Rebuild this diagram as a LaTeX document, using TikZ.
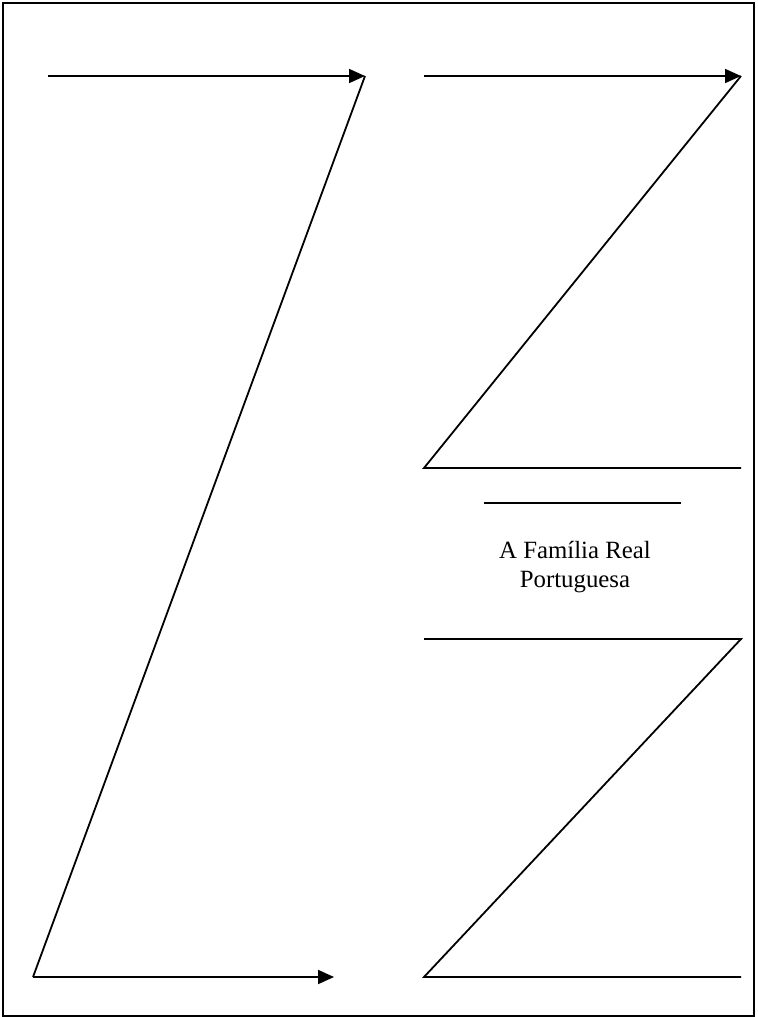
\documentclass[tikz,border=0pt]{standalone}
\usepackage{fontspec}
\setmainfont{Liberation Serif}
\usepackage{tikz}
\usetikzlibrary{positioning, arrows.meta}

\tikzset{
  zline/.style={line width=0.9pt},
  zarrow/.style={zline, -{Triangle[length=8pt, width=7pt]}},
}

\begin{document}
\begin{tikzpicture}[x=0.5pt, y=-0.5pt]
    \useasboundingbox (0,0) rectangle (757,1017);
    \draw[line width=1pt] (3,2.5) rectangle (754,1015.5);

    % left Z
    \coordinate (lstart) at (48,76);
    \coordinate (ltop)   at (365,76);
    \coordinate (lbot)   at (33,977);
    \coordinate (lend)   at (334,977);
    \draw[zarrow] (lstart) -- (ltop);
    \draw[zline]  (ltop) -- (lbot);
    \draw[zarrow] (lbot) -- (lend);

    % upper right Z
    \coordinate (ustart) at (424,76);
    \coordinate (utop)   at (741,76);
    \coordinate (ubot)   at (424,468);
    \coordinate (uend)   at (741,468);
    \draw[zarrow] (ustart) -- (utop);
    \draw[zline]  (utop) -- (ubot) -- (uend);

    % title
    \coordinate (sepl) at (484,503);
    \coordinate (sepr) at (681,503);
    \draw[zline] (sepl) -- (sepr);
    \node[align=center, font=\fontsize{12.4}{14.6}\selectfont] (title) at (575,567)
      {A Família Real\\Portuguesa};

    % lower right Z
    \coordinate (dstart) at (424,639);
    \coordinate (dtop)   at (741,639);
    \coordinate (dbot)   at (424,977);
    \coordinate (dend)   at (741,977);
    \draw[zline] (dstart) -- (dtop) -- (dbot) -- (dend);
  \end{tikzpicture}
\end{document}
